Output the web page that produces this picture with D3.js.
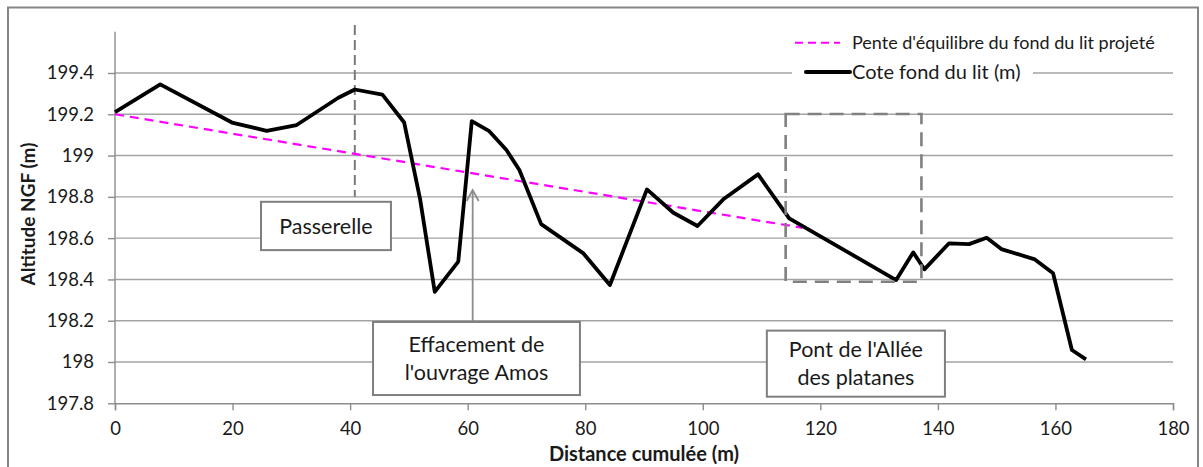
<!DOCTYPE html>
<html>
<head>
<meta charset="utf-8">
<script src="https://cdn.jsdelivr.net/npm/d3@7"></script>
<style>
    body { margin: 0; background: #fff; }
    text { font-family: Lato, "Noto Sans", sans-serif; fill: #1a1a1a; }
</style>
</head>
<body>
<script>
// profile data
var distance = [0, 7.7, 19.9, 25.8, 30.9, 38.0, 40.8, 45.5, 49.2, 51.9, 54.4, 58.4, 60.7, 63.6, 66.6, 68.8,
    72.5, 79.7, 84.2, 90.5, 95.0, 99.1, 103.5, 109.4, 114.7, 132.9, 135.8, 137.7, 141.9, 145.3, 148.3,
    150.8, 156.5, 159.6, 162.8, 165.2];
var altitude = [199.21, 199.345, 199.16, 199.12, 199.148, 199.28, 199.32, 199.295, 199.16, 198.79, 198.34,
    198.486, 199.167, 199.12, 199.027, 198.93, 198.668, 198.526, 198.373, 198.836, 198.723, 198.659, 198.788,
    198.909, 198.696, 198.397, 198.531, 198.449, 198.575, 198.571, 198.602, 198.547, 198.497, 198.43,
    198.058, 198.013];

// projected equilibrium slope
var penteDistance = [0, 117];
var penteAltitude = [199.2, 198.65];

var xTicks = [0, 20, 40, 60, 80, 100, 120, 140, 160, 180];
var yTicks = [197.8, 198, 198.2, 198.4, 198.6, 198.8, 199, 199.2, 199.4];

var seriesNames = ["Pente d'équilibre du fond du lit projeté", "Cote fond du lit (m)"];

var W = 1203, H = 467;

// set the ranges
var x = d3.scaleLinear().domain([0, 180]).range([115, 1173]);
var y = d3.scaleLinear().domain([197.8, 199.6]).range([403.3, 31.7]);

var svg = d3.select("body").append("svg")
    .attr("width", W)
    .attr("height", H);

// chart frame
svg.append("rect")
    .attr("x", 8).attr("y", 7.5)
    .attr("width", 1190).attr("height", 464)
    .attr("fill", "none")
    .attr("stroke", "#868686")
    .attr("stroke-width", 2);

// horizontal gridlines
svg.append("g").selectAll("line")
    .data(yTicks.slice(1))
    .enter().append("line")
    .attr("x1", x(0)).attr("x2", x(180))
    .attr("y1", function (d) { return y(d); })
    .attr("y2", function (d) { return y(d); })
    .attr("stroke", "#a3a3a3")
    .attr("stroke-width", 1.4);

// x axis
var xAxis = svg.append("g")
    .attr("transform", "translate(0," + y(197.8) + ")")
    .call(d3.axisBottom(x).tickValues(xTicks).tickSize(7).tickPadding(12).tickFormat(d3.format("d")));
xAxis.select(".domain").attr("stroke", "#8c8c8c").attr("stroke-width", 1.4);
xAxis.selectAll(".tick line").attr("stroke", "#8c8c8c").attr("stroke-width", 1.4);
xAxis.selectAll(".tick text")
    .style("font-size", "18.5px")
    .attr("fill", "#1a1a1a");

// y axis
var yAxis = svg.append("g")
    .attr("transform", "translate(" + x(0) + ",0)")
    .call(d3.axisLeft(y).tickValues(yTicks).tickSize(7).tickPadding(14).tickFormat(function (d) { return d3.format("")(+d.toFixed(1)); }));
yAxis.select(".domain").attr("stroke", "#8c8c8c").attr("stroke-width", 1.4)
    .attr("d", "M0," + y(199.6) + "V" + y(197.8));
yAxis.selectAll(".tick line").attr("stroke", "#8c8c8c").attr("stroke-width", 1.4);
yAxis.selectAll(".tick text")
    .style("font-size", "18.5px")
    .attr("fill", "#1a1a1a");

// axis titles
svg.append("text")
    .attr("x", (x(0) + x(180)) / 2)
    .attr("y", 461)
    .attr("text-anchor", "middle")
    .style("font-size", "20px")
    .style("font-weight", "bold")
    .text("Distance cumulée (m)");

svg.append("text")
    .attr("transform", "translate(35," + 214 + ") rotate(-90)")
    .attr("text-anchor", "middle")
    .style("font-size", "19px")
    .style("font-weight", "bold")
    .text("Altitude NGF (m)");

// vertical dashed marker at the footbridge
svg.append("line")
    .attr("x1", x(40.8)).attr("x2", x(40.8))
    .attr("y1", y(199.632)).attr("y2", y(198.8))
    .attr("stroke", "#7a7a7a")
    .attr("stroke-width", 2)
    .attr("stroke-dasharray", "10,5");

// equilibrium slope line
var line = d3.line()
    .x(function (d) { return x(d[0]); })
    .y(function (d) { return y(d[1]); });

svg.append("path")
    .datum(d3.zip(penteDistance, penteAltitude))
    .attr("d", line)
    .attr("fill", "none")
    .attr("stroke", "#ff00ff")
    .attr("stroke-width", 2.2)
    .attr("stroke-dasharray", "9,6");

// bed profile
svg.append("path")
    .datum(d3.zip(distance, altitude))
    .attr("d", line)
    .attr("fill", "none")
    .attr("stroke", "#000")
    .attr("stroke-width", 3.8)
    .attr("stroke-linejoin", "round");

// dashed box around the bridge
svg.append("rect")
    .attr("x", x(114.1)).attr("y", y(199.201))
    .attr("width", x(137.2) - x(114.1))
    .attr("height", y(198.389) - y(199.201))
    .attr("fill", "none")
    .attr("stroke", "#808080")
    .attr("stroke-width", 2.6)
    .attr("stroke-dasharray", "14,8");

// text boxes
var boxes = [
    { x0: 24.84, x1: 46.95, y0: 198.776, y1: 198.542, lines: ["Passerelle"] },
    { x0: 43.9, x1: 79.1, y0: 198.194, y1: 197.84, lines: ["Effacement de", "l'ouvrage Amos"] },
    { x0: 110.9, x1: 141.2, y0: 198.152, y1: 197.832, lines: ["Pont de l'Allée", "des platanes"] }
];

// arrow from the Amos box
svg.append("line")
    .attr("x1", x(60.85)).attr("x2", x(60.85))
    .attr("y1", y(198.194)).attr("y2", y(198.833))
    .attr("stroke", "#8c8c8c")
    .attr("stroke-width", 1.8);
svg.append("path")
    .attr("d", "M" + (x(60.85) - 6) + "," + (y(198.833) + 11) + "L" + x(60.85) + "," + y(198.833) +
        "L" + (x(60.85) + 6) + "," + (y(198.833) + 11))
    .attr("fill", "none")
    .attr("stroke", "#8c8c8c")
    .attr("stroke-width", 1.8);

var box = svg.append("g").selectAll("g")
    .data(boxes)
    .enter().append("g");

box.append("rect")
    .attr("x", function (d) { return x(d.x0); })
    .attr("y", function (d) { return y(d.y0); })
    .attr("width", function (d) { return x(d.x1) - x(d.x0); })
    .attr("height", function (d) { return y(d.y1) - y(d.y0); })
    .attr("fill", "#fff")
    .attr("stroke", "#7f7f7f")
    .attr("stroke-width", 2);

box.each(function (d) {
    var g = d3.select(this);
    var cx = (x(d.x0) + x(d.x1)) / 2;
    var cy = (y(d.y0) + y(d.y1)) / 2;
    var n = d.lines.length;
    d.lines.forEach(function (t, i) {
        g.append("text")
            .attr("x", cx)
            .attr("y", cy + (i - (n - 1) / 2) * 28)
            .attr("dy", "0.36em")
            .attr("text-anchor", "middle")
            .style("font-size", "21.5px")
            .text(t);
    });
});

// legend
svg.append("rect")
    .attr("x", 792).attr("y", 60)
    .attr("width", 241).attr("height", 24)
    .attr("fill", "#fff");

svg.append("line")
    .attr("x1", 795).attr("x2", 840)
    .attr("y1", 42.7).attr("y2", 42.7)
    .attr("stroke", "#ff00ff")
    .attr("stroke-width", 2)
    .attr("stroke-dasharray", "8,5");
svg.append("text")
    .attr("x", 852).attr("y", 42.7)
    .attr("dy", "0.36em")
    .style("font-size", "18px")
    .text(seriesNames[0]);

svg.append("line")
    .attr("x1", 806).attr("x2", 850)
    .attr("y1", 72).attr("y2", 72)
    .attr("stroke", "#000")
    .attr("stroke-width", 4)
    .attr("stroke-linecap", "round");
svg.append("text")
    .attr("x", 852).attr("y", 72)
    .attr("dy", "0.36em")
    .style("font-size", "20px")
    .text(seriesNames[1]);
</script>
</body>
</html>
